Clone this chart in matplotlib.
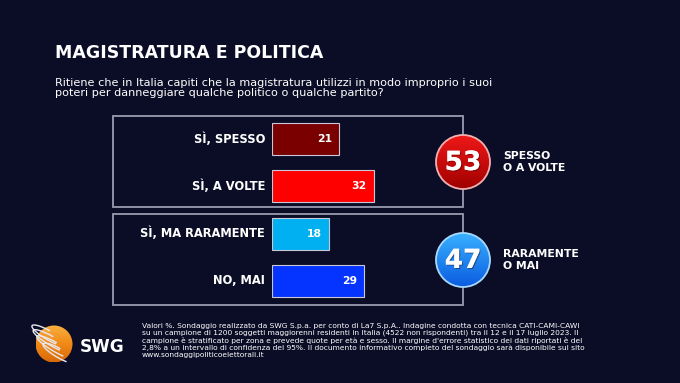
import numpy as np
import matplotlib.pyplot as plt
from matplotlib.patches import Rectangle, Circle, Arc
from matplotlib.colors import LinearSegmentedColormap
import matplotlib.patheffects as pe

# dati del sondaggio
categorie = ['SÌ, SPESSO', 'SÌ, A VOLTE', 'SÌ, MA RARAMENTE', 'NO, MAI']
valori = [21, 32, 18, 29]
colori = ['#7a0000', '#ff0000', '#00b0f0', '#0533ff']
gruppi = ['SPESSO\nO A VOLTE', 'RARAMENTE\nO MAI']

titolo = 'MAGISTRATURA E POLITICA'
domanda = ('Ritiene che in Italia capiti che la magistratura utilizzi in modo improprio i suoi\n'
           'poteri per danneggiare qualche politico o qualche partito?')
nota = ("Valori %. Sondaggio realizzato da SWG S.p.a. per conto di La7 S.p.A.. Indagine condotta con tecnica CATI-CAMI-CAWI\n"
        "su un campione di 1200 soggetti maggiorenni residenti in Italia (4522 non rispondenti) tra il 12 e il 17 luglio 2023. Il\n"
        "campione è stratificato per zona e prevede quote per età e sesso. Il margine d'errore statistico dei dati riportati è del\n"
        "2,8% a un intervallo di confidenza del 95%. Il documento informativo completo del sondaggio sarà disponibile sul sito\n"
        "www.sondaggipoliticoelettorali.it")

BG = '#0b0c26'
W, H = 680, 383

fig = plt.figure(figsize=(W / 100, H / 100), dpi=100)
fig.patch.set_facecolor(BG)

# asse di sfondo in pixel
bg = fig.add_axes([0, 0, 1, 1])
bg.set_xlim(0, W)
bg.set_ylim(H, 0)
bg.axis('off')

bg.text(55, 53, titolo, color='white', fontsize=12.5, fontweight='bold', va='center')
bg.text(55, 88, domanda, color='white', fontsize=8.15, va='center', linespacing=1.05)

# riquadri dei due gruppi
linea = '#9a9cb0'
for top, bot in [(116, 207), (214, 305)]:
    bg.add_patch(Rectangle((113, top), 463 - 113, bot - top, fill=False,
                           edgecolor=linea, lw=1.3, zorder=1))

# asse delle barre
px_unit = 3.18
x0 = 272
ax = fig.add_axes([x0 / W, 1 - 304.5 / H, 60 * px_unit / W, 189 / H])
ax.set_facecolor('none')
ax.set_xlim(0, 60)
ax.set_ylim(3.5, -0.5)
ax.axis('off')
y = np.arange(len(valori))
ax.barh(y, valori, height=0.68, color=colori, edgecolor='#c8c8d8', lw=0.8)
for yi, v, c in zip(y, valori, categorie):
    ax.text(v - 2.2, yi, str(v), color='white', fontsize=7.8, fontweight='bold',
            ha='right', va='center')
    ax.text(-2.2, yi, c, color='white', fontsize=8.3, fontweight='bold',
            ha='right', va='center', clip_on=False)

# cerchi con i totali
totali = [valori[0] + valori[1], valori[2] + valori[3]]
cerchi = [(162, '#f01818', '#a00000', '#f0b0b0'), (260, '#3ab0ff', '#0a5ce0', '#a8d8ff')]
grad = np.linspace(0, 1, 100).reshape(-1, 1)
for (cy, c1, c2, ce), tot, lab in zip(cerchi, totali, gruppi):
    r = 27
    cmap = LinearSegmentedColormap.from_list('g', [c1, c2])
    im = bg.imshow(grad, extent=(463 - r, 463 + r, cy + r, cy - r), cmap=cmap,
                   aspect='auto', zorder=3, origin='upper')
    circ = Circle((463, cy), r, facecolor='none', edgecolor=ce, lw=1.3, zorder=4)
    bg.add_patch(circ)
    im.set_clip_path(circ)
    bg.text(463, cy + 1, str(tot), color='white', fontsize=19, fontweight='bold',
            ha='center', va='center', zorder=5,
            path_effects=[pe.withSimplePatchShadow(offset=(0.8, -0.8), shadow_rgbFace='#300000', alpha=0.4), pe.Normal()])
    bg.text(503, cy, lab, color='white', fontsize=7.8, fontweight='bold',
            ha='left', va='center', linespacing=1.25, zorder=5)

# logo SWG
lx, ly, lr = 54, 344, 18.5
cmap_o = LinearSegmentedColormap.from_list('o', ['#f9b040', '#f08a18', '#d86a08'])
im = bg.imshow(grad, extent=(lx - lr, lx + lr, ly + lr, ly - lr), cmap=cmap_o,
               aspect='auto', zorder=3, origin='upper')
sfera = Circle((lx, ly), lr, facecolor='none', edgecolor='none', zorder=3)
bg.add_patch(sfera)
im.set_clip_path(sfera)
for k in (-10, -3, 4, 11):
    cx = lx + k * 0.5
    cy = ly + k * 0.85
    w = 2 * np.sqrt(max(lr ** 2 - k ** 2, 40)) + 8
    bg.add_patch(Arc((cx, cy), w, 9, angle=30, theta1=20, theta2=250,
                     color='#e8e8f0', lw=1.0, zorder=4))
bg.text(80, 346.5, 'SWG', color='white', fontsize=12.2, fontweight='bold', va='center')

bg.text(142, 323, nota, color='white', fontsize=5.4, va='top', linespacing=1.12)

bg.set_xlim(0, W)
bg.set_ylim(H, 0)

fig.savefig('out.png', dpi=100, facecolor=BG)
